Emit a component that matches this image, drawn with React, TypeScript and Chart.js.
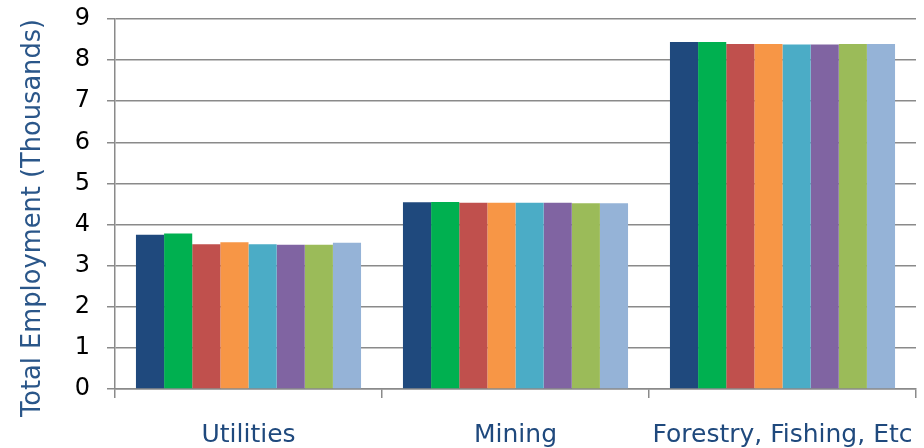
import React, { useEffect, useRef } from "react";
import { Chart, registerables } from "chart.js";

Chart.register(...registerables);

const categories = ["Utilities", "Mining", "Forestry, Fishing, Etc"];
const seriesColors = ["#1F497D", "#00B050", "#C0504D", "#F79646", "#4BACC6", "#8064A2", "#9BBB59", "#95B3D7"];
const series1 = [3.75, 4.54, 8.44];
const series2 = [3.78, 4.55, 8.44];
const series3 = [3.52, 4.53, 8.39];
const series4 = [3.57, 4.53, 8.39];
const series5 = [3.52, 4.53, 8.38];
const series6 = [3.51, 4.53, 8.38];
const series7 = [3.51, 4.52, 8.39];
const series8 = [3.56, 4.52, 8.39];
const allSeries = [series1, series2, series3, series4, series5, series6, series7, series8];
const yTitle = "Total Employment (Thousands)";

const FONT = "'DejaVu Sans', Verdana, sans-serif";

export default function App() {
  const ref = useRef<HTMLCanvasElement | null>(null);
  useEffect(() => {
    if (!ref.current) return;
    const titlePlugin = {
      id: "yTitle",
      afterDraw(chart: any) {
        const ctx = chart.ctx;
        ctx.save();
        ctx.translate(33, 218);
        ctx.rotate(-Math.PI / 2);
        ctx.font = `25.7px ${FONT}`;
        ctx.fillStyle = "#2A5689";
        ctx.textAlign = "center";
        ctx.textBaseline = "middle";
        ctx.fillText(yTitle, 0, 0);
        ctx.restore();
      },
    };
    const chart = new Chart(ref.current, {
      type: "bar",
      data: {
        labels: categories,
        datasets: allSeries.map((d, i) => ({
          label: `Series ${i + 1}`,
          data: d,
          backgroundColor: seriesColors[i],
          borderWidth: 0,
          barPercentage: 1,
          categoryPercentage: 0.843,
        })),
      },
      options: {
        responsive: false,
        animation: false,
        layout: { padding: { top: 19, right: 8, left: 0, bottom: 0 } },
        plugins: { legend: { display: false }, tooltip: { enabled: false } },
        scales: {
          x: {
            grid: { display: true, drawOnChartArea: false, drawTicks: true, tickLength: 9, color: "#8A8A8A", lineWidth: 1.5, offset: true },
            border: { display: true, color: "#8A8A8A", width: 1.5 },
            ticks: { color: "#1F497D", font: { family: FONT, size: 25 }, padding: 22, maxRotation: 0, minRotation: 0, autoSkip: false },
            afterFit: (s: any) => { s.height = 59; s.paddingLeft = 0; s.paddingRight = 0; },
          },
          y: {
            min: 0,
            max: 9,
            ticks: { stepSize: 1, color: "#000", font: { family: FONT, size: 24 }, padding: 17 },
            grid: { color: "#8A8A8A", lineWidth: 1.5, tickLength: 8, drawTicks: true },
            border: { display: true, color: "#8A8A8A", width: 1.5 },
            afterFit: (s: any) => { s.width = 115; s.paddingTop = 0; s.paddingBottom = 0; },
          },
        },
      },
      plugins: [titlePlugin],
    } as any);
    return () => chart.destroy();
  }, []);
  return (
    <div style={{ position: "fixed", left: 0, top: 0, width: 924, height: 448, background: "#fff" }}>
      <canvas ref={ref} width={924} height={448} style={{ width: 924, height: 448, display: "block" }} />
    </div>
  );
}
